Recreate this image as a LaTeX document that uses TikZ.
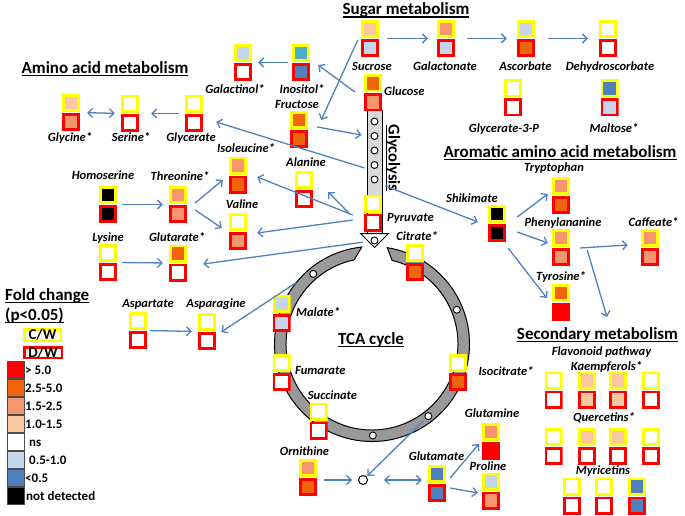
\documentclass[tikz,border=0pt]{standalone}
\usepackage{fontspec}
\setmainfont{Carlito}
\usetikzlibrary{arrows.meta}

\definecolor{cwyellow}{RGB}{255,255,0}
\definecolor{dwred}{RGB}{255,0,0}
\definecolor{fcred}{RGB}{255,0,0}
\definecolor{fcorange}{RGB}{240,100,12}
\definecolor{fcsalmon}{RGB}{247,150,110}
\definecolor{fcpeach}{RGB}{250,200,160}
\definecolor{fclblue}{RGB}{197,213,235}
\definecolor{fcblue}{RGB}{79,129,189}
\definecolor{fccyan}{RGB}{75,172,198}
\definecolor{flowblue}{RGB}{79,129,189}

\newcommand{\uln}[1]{\vtop{\hbox{\raisebox{0pt}[\height][0pt]{#1}}\kern1.5pt\hrule height 1.2pt}}

\tikzset{
  met/.style 2 args={minimum width=18pt, minimum height=37pt, inner sep=0pt,
    path picture={
      \draw[line width=2.6pt, draw=cwyellow, fill=#1] ([shift={(1.3pt,-1.3pt)}]path picture bounding box.north west) rectangle +(15.4pt,-15.4pt);
      \draw[line width=2.6pt, draw=dwred, fill=#2] ([shift={(1.3pt,1.3pt)}]path picture bounding box.south west) rectangle +(15.4pt,15.4pt);
    }},
  lab/.style={font=\fontsize{12.5}{14}\selectfont\bfseries\itshape, inner sep=0pt, text height=8pt, text depth=0pt},
  ttl/.style={font=\fontsize{17}{20}\selectfont\bfseries, inner sep=0pt, text height=11pt, text depth=0pt},
  flow/.style={->, draw=flowblue, line width=1.3pt},
  dot/.style={circle, draw, fill=white, line width=0.9pt, minimum size=7pt, inner sep=0pt},
  lgsq/.style={draw=black!70, line width=0.8pt, minimum size=17.2pt, inner sep=0pt},
  lgtx/.style={font=\fontsize{13}{15}\selectfont\bfseries, inner sep=0pt, anchor=west, text height=8.5pt, text depth=0pt},
}

\begin{document}
\begin{tikzpicture}[x=1pt, y=-1pt, >={Straight Barb[length=4.5pt,width=9pt]}]
\useasboundingbox (0,0) rectangle (685,516);

% TCA cycle
\coordinate (tca) at (372,344);
\draw[line width=1pt, fill=black!40] ([shift={(-81:97.5)}]tca) arc[start angle=-81, end angle=264, radius=97.5]
  -- ([shift={(258:86)}]tca) arc[start angle=258, end angle=-76.5, radius=86] -- cycle;
\node[dot] (rc1) at ([shift={(-130:91.5)}]tca) {};
\node[dot] (rc2) at ([shift={(-22:91.5)}]tca) {};
\node[dot] (rc3) at ([shift={(52:91.5)}]tca) {};
\node[dot] (rc4) at ([shift={(89.5:91.5)}]tca) {};
\coordinate (oaa) at ([shift={(-141:97.5)}]tca);
\node[ttl] (tcaT) at (371,338.5) {\uln{TCA cycle}};

% Glycolysis
\node[draw, line width=1pt, fill=black!15, minimum width=15pt, minimum height=122pt, inner sep=0pt] (glyco) at (374.5,172) {};
\draw[line width=1pt, fill=white] ([xshift=-6pt]glyco.south west) -- ([xshift=6pt]glyco.south east) -- ([yshift=-14pt]glyco.south) -- cycle;
\node[dot] (gc1) at ([yshift=-11pt]glyco.north) {};
\node[dot] (gc2) at ([yshift=-25.5pt]glyco.north) {};
\node[dot] (gc3) at ([yshift=-40pt]glyco.north) {};
\node[dot] (gc4) at ([yshift=-54.5pt]glyco.north) {};
\node[dot] (gc5) at ([yshift=-69pt]glyco.north) {};
\node[dot] (gc6) at ([yshift=-7pt]glyco.south) {};
\node[ttl, rotate=-90, font=\fontsize{16.5}{18}\selectfont\bfseries] (glyT) at (394,158) {\uln{Glycolysis}};

% Titles
\node[ttl] (sugT) at (406,9.5) {\uln{Sugar metabolism}};
\node[ttl] (aminoT) at (105,68) {\uln{Amino acid metabolism}};
\node[ttl] (aroT) at (560,152) {\uln{Aromatic amino acid metabolism}};
\node[ttl] (secT) at (597.5,334) {\uln{Secondary metabolism}};

% Metabolites: top C/W, bottom D/W
\node[met={fcpeach}{fcsalmon}] (gly) at (71,112.5) {};
\node[met={white}{white}] (ser) at (130,113.5) {};
\node[met={white}{white}] (glyc) at (194,113.5) {};
\node[met={fclblue}{white}] (galol) at (243,62.5) {};
\node[met={fccyan}{fcblue}] (ino) at (301,62.5) {};
\node[met={fcpeach}{fclblue}] (suc) at (370,38.5) {};
\node[met={fcsalmon}{fclblue}] (galn) at (446,38.5) {};
\node[met={fclblue}{fcorange}] (asc) at (526,38.5) {};
\node[met={white}{white}] (dha) at (608,38.5) {};
\node[met={white}{white}] (g3p) at (513,98) {};
\node[met={fcblue}{fclblue}] (malt) at (609.5,98) {};
\node[met={fcorange}{fcsalmon}] (glu) at (373,93) {};
\node[met={fcorange}{fcorange}] (fru) at (299,129.5) {};
\node[met={fcsalmon}{fcorange}] (ile) at (238,175) {};
\node[met={white}{white}] (ala) at (304,189.5) {};
\node[met={white}{fcsalmon}] (val) at (238,231.5) {};
\node[met={fcsalmon}{fcsalmon}] (thr) at (178,204.5) {};
\node[met={black}{black}] (hser) at (108,204.5) {};
\node[met={white}{white}] (lys) at (108,262.5) {};
\node[met={fcorange}{white}] (glut) at (178,263) {};
\node[met={white}{white}] (pyr) at (373,213) {};
\node[met={white}{fcorange}] (cit) at (415,262.5) {};
\node[met={black}{black}] (shik) at (497,223.5) {};
\node[met={fcsalmon}{fcorange}] (trp) at (561,195.5) {};
\node[met={fcsalmon}{fcsalmon}] (phe) at (561,247.5) {};
\node[met={fcorange}{fcred}] (tyr) at (561,302.5) {};
\node[met={fcsalmon}{fcsalmon}] (caf) at (650,247.5) {};
\node[met={white}{white}] (asp) at (138,330.5) {};
\node[met={white}{white}] (asn) at (207,331.5) {};
\node[met={fclblue}{fclblue}] (mal) at (281.5,313.5) {};
\node[met={white}{white}] (fum) at (281.5,372.5) {};
\node[met={white}{white}] (scc) at (318.5,421) {};
\node[met={white}{fcorange}] (icit) at (458,372.5) {};
\node[met={fcsalmon}{fcorange}] (orn) at (308,477.5) {};
\node[met={fcblue}{fcblue}] (glt) at (437,483.5) {};
\node[met={fcsalmon}{fcred}] (gln) at (491,441.5) {};
\node[met={fclblue}{fcsalmon}] (pro) at (491,491) {};
\node[circle, draw, line width=1pt, minimum size=9pt, inner sep=0pt] (nd) at (363,480) {};

% Flavonoids
\node[met={white}{white}] (kae1) at (553.5,390) {};
\node[met={fcpeach}{fcpeach}] (kae2) at (587,390) {};
\node[met={fcpeach}{fcpeach}] (kae3) at (618,390) {};
\node[met={white}{white}] (kae4) at (651,390) {};
\node[met={white}{white}] (que1) at (553.5,446.5) {};
\node[met={fcpeach}{white}] (que2) at (587,446.5) {};
\node[met={fcpeach}{white}] (que3) at (618,446.5) {};
\node[met={white}{white}] (que4) at (651,446.5) {};
\node[met={white}{white}] (myr1) at (572,496) {};
\node[met={white}{white}] (myr2) at (604,496) {};
\node[met={fcblue}{fcblue}] (myr3) at (637,496) {};

% Labels
\node[lab] (glyL) at (70,138) {Glycine*};
\node[lab] (serL) at (131,138) {Serine*};
\node[lab] (glycL) at (191,138) {Glycerate};
\node[lab] (galolL) at (235,90) {Galactinol*};
\node[lab] (inoL) at (302,90) {Inositol*};
\node[lab] (sucL) at (372,67) {Sucrose};
\node[lab] (galnL) at (445,67) {Galactonate};
\node[lab] (ascL) at (525.5,67) {Ascorbate};
\node[lab] (dhaL) at (610,67) {Dehydroscorbate};
\node[lab] (g3pL) at (504,128) {Glycerate-3-P};
\node[lab] (maltL) at (614,128) {Maltose*};
\node[lab, anchor=west] (gluL) at (384,91.5) {Glucose};
\node[lab] (fruL) at (297,105) {Fructose};
\node[lab] (ileL) at (246,149) {Isoleucine*};
\node[lab] (alaL) at (306,162) {Alanine};
\node[lab] (valL) at (242,204) {Valine};
\node[lab] (thrL) at (180,176) {Threonine*};
\node[lab] (hserL) at (103,175) {Homoserine};
\node[lab] (lysL) at (108,237) {Lysine};
\node[lab] (glutL) at (177,237) {Glutarate*};
\node[lab, anchor=west] (pyrL) at (387,217) {Pyruvate};
\node[lab] (citL) at (417,236) {Citrate*};
\node[lab] (shikL) at (472,198) {Shikimate};
\node[lab] (trpL) at (554,167) {Tryptophan};
\node[lab] (pheL) at (563,222) {Phenylananine};
\node[lab] (tyrL) at (561,276) {Tyrosine*};
\node[lab] (cafL) at (653.5,222) {Caffeate*};
\node[lab] (aspL) at (148,303) {Aspartate};
\node[lab] (asnL) at (216,303) {Asparagine};
\node[lab, anchor=west] (malL) at (296,312) {Malate*};
\node[lab, anchor=west] (fumL) at (295,370) {Fumarate};
\node[lab] (sccL) at (332.5,395) {Succinate};
\node[lab] (icitL) at (506,371) {Isocitrate*};
\node[lab] (ornL) at (304.5,451) {Ornithine};
\node[lab] (gltL) at (436.5,456) {Glutamate};
\node[lab] (glnL) at (492,413) {Glutamine};
\node[lab] (proL) at (488,466) {Proline};
\node[lab] (flavL) at (601.5,351) {Flavonoid pathway};
\node[lab] (kaeL) at (606.5,366) {Kaempferols*};
\node[lab] (queL) at (604,417.5) {Quercetins*};
\node[lab] (myrL) at (603,470) {Myricetins};

% Arrows
\draw[flow,<->,shorten <=7pt,shorten >=6pt] (gly.east) -- (ser.west);
\draw[flow,shorten <=6pt,shorten >=12pt] (glyc.west) -- (ser.east);
\draw[flow] ([shift={(-2,-4)}]glyco.west) -- ([shift={(13,8.5)}]glyc.east);
\draw[flow,shorten <=4pt,shorten >=6pt] (ino.west) -- (galol.east);
\draw[flow] ([shift={(-9,-1)}]glu.west) -- ([shift={(8,2.5)}]ino.east);
\draw[flow,shorten <=8pt,shorten >=9pt] (suc.east) -- (galn.west);
\draw[flow,shorten <=12pt,shorten >=10pt] (galn.east) -- (asc.west);
\draw[flow,shorten <=13pt,shorten >=11pt] (asc.east) -- (dha.west);
\draw[flow] ([shift={(-3,1.5)}]suc.west) -- ([shift={(13,-9.5)}]fru.east);
\draw[flow] ([shift={(9,-2.5)}]fru.east) -- ([shift={(-5,-37)}]glyco.west);
\draw[flow,shorten <=5pt,shorten >=6pt] (hser.east) -- (thr.west);
\draw[flow,shorten <=5pt,shorten >=6pt] (lys.east) -- (glut.west);
\draw[flow] ([shift={(8,-1.5)}]thr.east) -- ([shift={(-6,5)}]ile.west);
\draw[flow] ([shift={(8,5.5)}]thr.east) -- ([shift={(-7,-3.5)}]val.west);
\draw[flow] ([shift={(-11,2)}]pyr.west) -- ([shift={(10,2)}]ile.east);
\draw[flow] ([shift={(-14,1)}]pyr.west) -- ([shift={(15,2.5)}]ala.east);
\draw[flow] ([shift={(-11,7)}]pyr.west) -- ([shift={(10,1.5)}]val.east);
\draw[flow] ([shift={(-1,10.5)}]pyr.south west) -- ([shift={(16,1)}]glut.east);
\draw[flow] ([shift={(3,14)}]glyco.east) -- ([shift={(-10,-1.5)}]shik.west);
\draw[flow] ([shift={(11,-6.5)}]shik.east) -- ([shift={(-4,-1.5)}]trp.west);
\draw[flow] ([shift={(11,8.5)}]shik.east) -- ([shift={(-4,-4.5)}]phe.west);
\draw[flow] ([shift={(2,6)}]shik.south east) -- ([shift={(-5,-4.5)}]tyr.west);
\draw[flow] ([shift={(10,0.5)}]phe.east) -- ([shift={(-13,-2.5)}]caf.west);
\draw[flow] ([shift={(17,2.5)}]phe.east) -- ([shift={(9.5,-17)}]secT.center);
\draw[flow,shorten <=3pt,shorten >=6pt] (asp.east) -- (asn.west);
\draw[flow] (oaa) -- ([shift={(5,0.5)}]asn.east);
\draw[flow,shorten <=7pt,shorten >=6pt] (orn.east |- nd.west) -- (nd.west);
\draw[flow,shorten <=3pt,shorten >=1pt] (rc3) -- (nd);
\draw[flow,<->,shorten <=16pt,shorten >=6pt] (nd.east) -- (nd.east -| glt.west);
\draw[flow] ([shift={(4,-5.5)}]glt.east) -- ([shift={(-3,2.5)}]gln.west);
\draw[flow] ([shift={(4,4.5)}]glt.east) -- ([shift={(-4,2)}]pro.west);

% Legend
\node[ttl, anchor=west] (foldT) at (5,294.5) {\uln{Fold change}};
\node[ttl, anchor=west] (pT) at (5,314.5) {\uln{(p<0.05)}};
\node[draw=cwyellow, line width=2.5pt, minimum width=36.5pt, minimum height=11.5pt, inner sep=0pt, text height=9.5pt, text depth=0pt, font=\fontsize{15}{17}\selectfont\bfseries] (cwL) at (42.5,335) {C/W};
\node[draw=dwred, line width=2.5pt, minimum width=37.5pt, minimum height=10.5pt, inner sep=0pt, text height=9.5pt, text depth=0pt, font=\fontsize{15}{17}\selectfont\bfseries] (dwL) at (43,352.5) {D/W};
\node[lgsq, fill=fcred] (lg1) at (15.5,369.7) {};
\node[lgsq, fill=fcorange] (lg2) at (15.5,387.7) {};
\node[lgsq, fill=fcsalmon] (lg3) at (15.5,405.8) {};
\node[lgsq, fill=fcpeach] (lg4) at (15.5,423.8) {};
\node[lgsq, fill=white] (lg5) at (15.5,441.9) {};
\node[lgsq, fill=fclblue] (lg6) at (15.5,459.9) {};
\node[lgsq, fill=fcblue] (lg7) at (15.5,477.9) {};
\node[lgsq, fill=black] (lg8) at (15.5,496) {};
\node[lgtx] (lt1) at (25,370) {> 5.0};
\node[lgtx] (lt2) at (25,388) {2.5-5.0};
\node[lgtx] (lt3) at (25,406) {1.5-2.5};
\node[lgtx] (lt4) at (25,424) {1.0-1.5};
\node[lgtx] (lt5) at (29,442.5) {ns};
\node[lgtx] (lt6) at (29,460.5) {0.5-1.0};
\node[lgtx] (lt7) at (25,478.5) {<0.5};
\node[lgtx] (lt8) at (26,496.5) {not detected};
\end{tikzpicture}
\end{document}
